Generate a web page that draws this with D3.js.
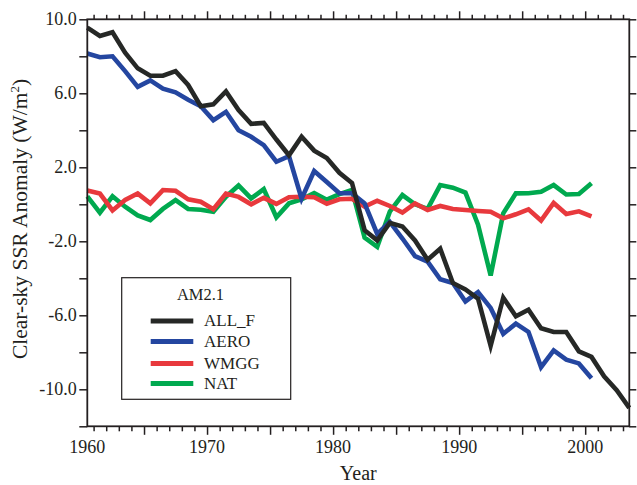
<!DOCTYPE html>
<html>
<head>
<meta charset="utf-8">
<script src="https://cdn.jsdelivr.net/npm/d3@7"></script>
<style>
  html, body { margin: 0; padding: 0; background: #ffffff; }
  svg { display: block; }
  text { font-family: "Liberation Serif", "Times New Roman", serif; fill: #231f20; }
</style>
</head>
<body>
<svg id="chart" width="637" height="485"></svg>
<script>
// ---------------- data ----------------
const years = [1960.5, 1961.5, 1962.5, 1963.5, 1964.5, 1965.5, 1966.5, 1967.5, 1968.5, 1969.5,
  1970.5, 1971.5, 1972.5, 1973.5, 1974.5, 1975.5, 1976.5, 1977.5, 1978.5, 1979.5,
  1980.5, 1981.5, 1982.5, 1983.5, 1984.5, 1985.5, 1986.5, 1987.5, 1988.5, 1989.5,
  1990.5, 1991.5, 1992.5, 1993.5, 1994.5, 1995.5, 1996.5, 1997.5, 1998.5, 1999.5,
  2000.5, 2001.5, 2002.5, 2003.5];

const allF = [9.55, 9.1, 9.3, 8.2, 7.35, 6.95, 6.95, 7.2, 6.45, 5.3,
  5.4, 6.1, 5.1, 4.35, 4.4, 3.5, 2.65, 3.65, 2.9, 2.5,
  1.7, 1.15, -1.4, -1.95, -1.0, -1.2, -1.95, -3.0, -2.4, -4.25,
  -4.6, -5.1, -7.65, -5.05, -6.05, -5.7, -6.7, -6.9, -6.9, -7.95,
  -8.25, -9.3, -10.05, -11.0];

const aero = [8.15, 7.95, 8.0, 7.2, 6.35, 6.7, 6.25, 6.05, 5.65, 5.3,
  4.55, 5.0, 4.0, 3.65, 3.2, 2.3, 2.6, 0.3, 1.8, 1.2,
  0.6, 0.6, 0.05, -1.6, -0.95, -1.85, -2.8, -3.1, -4.05, -4.25,
  -5.25, -4.75, -5.6, -7.0, -6.45, -6.9, -8.8, -7.9, -8.4, -8.6,
  -9.4];

const wmgg = [0.75, 0.58, -0.33, 0.23, 0.58, 0.05, 0.77, 0.73, 0.27, 0.14,
  -0.27, 0.58, 0.4, 0.0, 0.35, 0.02, 0.38, 0.41, 0.38, 0.03,
  0.27, 0.3, -0.13, 0.19, -0.09, -0.45, 0.05, -0.31, -0.09, -0.25,
  -0.31, -0.36, -0.4, -0.76, -0.54, -0.27, -0.88, 0.07, -0.52, -0.38,
  -0.65];

const nat = [0.43, -0.45, 0.43, -0.13, -0.6, -0.85, -0.25, 0.23, -0.25, -0.29,
  -0.4, 0.41, 1.02, 0.32, 0.82, -0.7, 0.05, 0.27, 0.61, 0.25,
  0.55, 0.77, -1.8, -2.3, -0.4, 0.5, 0.0, -0.25, 1.04, 0.9,
  0.63, -1.1, -3.85, -0.49, 0.59, 0.6, 0.68, 1.04, 0.53, 0.56,
  1.14];

const seriesNames = ["ALL_F", "AERO", "WMGG", "NAT"];
const seriesColors = ["#262826", "#2446a0", "#e8393d", "#00a94f"];
const legendTitle = "AM2.1";

const yTickValues = [10, 8, 6, 4, 2, 0, -2, -4, -6, -8, -10, -12];
const yLabelValues = [10, 6, 2, -2, -6, -10];
const yLabelText = ["10.0", "6.0", "2.0", "-2.0", "-6.0", "-10.0"];
const xLabelValues = [1960.5, 1970, 1980, 1990, 2000];
const xLabelText = ["1960", "1970", "1980", "1990", "2000"];
const xMinorTicks = d3.range(1961, 2004);
const xMajorTicks = [1965, 1970, 1975, 1980, 1985, 1990, 1995, 2000];

// ---------------- layout ----------------
const svg = d3.select("#chart");
const L = 87.3, R = 629.3, T = 19.3, B = 426.3;
const x = d3.scaleLinear().domain([1960.5, 2003.5]).range([L, R]);
const y = d3.scaleLinear().domain([-12, 10]).range([B, T]);
const axisColor = "#231f20";

// series lines
const seriesData = [allF, aero, wmgg, nat];
const line = d3.line().x((d, i) => x(years[i])).y(d => y(d));
const order = [3, 2, 1, 0];
order.forEach(k => {
  svg.append("path")
    .datum(seriesData[k])
    .attr("d", line)
    .attr("fill", "none")
    .attr("stroke", seriesColors[k])
    .attr("stroke-width", 4.6)
    .attr("stroke-linejoin", "miter")
    .attr("stroke-miterlimit", 4);
});

// axes
function styleAxis(g) {
  g.selectAll(".domain").remove();
  g.selectAll(".tick line").attr("stroke", axisColor).attr("stroke-width", 1.5);
  g.selectAll(".tick text").remove();
}
svg.append("g").attr("transform", `translate(${L},0)`)
  .call(d3.axisLeft(y).tickValues(yTickValues).tickSize(8)).call(styleAxis);
svg.append("g").attr("transform", `translate(${R},0)`)
  .call(d3.axisRight(y).tickValues(yTickValues).tickSize(7)).call(styleAxis);
svg.append("g").attr("transform", `translate(0,${B})`)
  .call(d3.axisBottom(x).tickValues(xMinorTicks.filter(v => v % 5 !== 0)).tickSize(5)).call(styleAxis);
svg.append("g").attr("transform", `translate(0,${B})`)
  .call(d3.axisBottom(x).tickValues(xMajorTicks).tickSize(8.5)).call(styleAxis);
svg.append("g").attr("transform", `translate(0,${T})`)
  .call(d3.axisTop(x).tickValues(xMinorTicks.filter(v => v % 5 !== 0)).tickSize(4.5)).call(styleAxis);
svg.append("g").attr("transform", `translate(0,${T})`)
  .call(d3.axisTop(x).tickValues(xMajorTicks).tickSize(8)).call(styleAxis);

// frame
svg.append("rect")
  .attr("x", L).attr("y", T).attr("width", R - L).attr("height", B - T)
  .attr("fill", "none").attr("stroke", axisColor).attr("stroke-width", 1.8);

// y labels
svg.append("g").selectAll("text").data(yLabelValues).join("text")
  .attr("x", L - 10.5)
  .attr("y", d => y(d))
  .attr("dy", "0.34em")
  .attr("text-anchor", "end")
  .attr("font-size", 18)
  .text((d, i) => yLabelText[i]);

// x labels
svg.append("g").selectAll("text").data(xLabelValues).join("text")
  .attr("x", d => x(d))
  .attr("y", 453.3)
  .attr("text-anchor", "middle")
  .attr("font-size", 18)
  .text((d, i) => xLabelText[i]);

// axis titles
svg.append("text")
  .attr("x", (L + R) / 2)
  .attr("y", 480)
  .attr("text-anchor", "middle")
  .attr("font-size", 20)
  .text("Year");

const yt = svg.append("text")
  .attr("transform", "translate(26.5,219) rotate(-90)")
  .attr("text-anchor", "middle")
  .attr("font-size", 21.5);
yt.append("tspan").text("Clear-sky SSR Anomaly (W/m");
yt.append("tspan").attr("font-size", 13).attr("dy", -8).text("2");
yt.append("tspan").attr("dy", 8).text(")");

// legend
const lg = svg.append("g");
lg.append("rect")
  .attr("x", 121.7).attr("y", 277.7).attr("width", 169).attr("height", 121.6)
  .attr("fill", "#ffffff").attr("stroke", axisColor).attr("stroke-width", 1.2);
lg.append("text")
  .attr("x", 200.5).attr("y", 300)
  .attr("text-anchor", "middle")
  .attr("font-size", 16.5)
  .text(legendTitle);
const legendY = [321, 341.5, 363.5, 383.5];
seriesNames.forEach((name, i) => {
  lg.append("line")
    .attr("x1", 150.7).attr("x2", 193.3)
    .attr("y1", legendY[i]).attr("y2", legendY[i])
    .attr("stroke", seriesColors[i]).attr("stroke-width", 5);
  lg.append("text")
    .attr("x", 204).attr("y", legendY[i] + 5.3)
    .attr("font-size", 17)
    .text(name);
});
</script>
</body>
</html>
